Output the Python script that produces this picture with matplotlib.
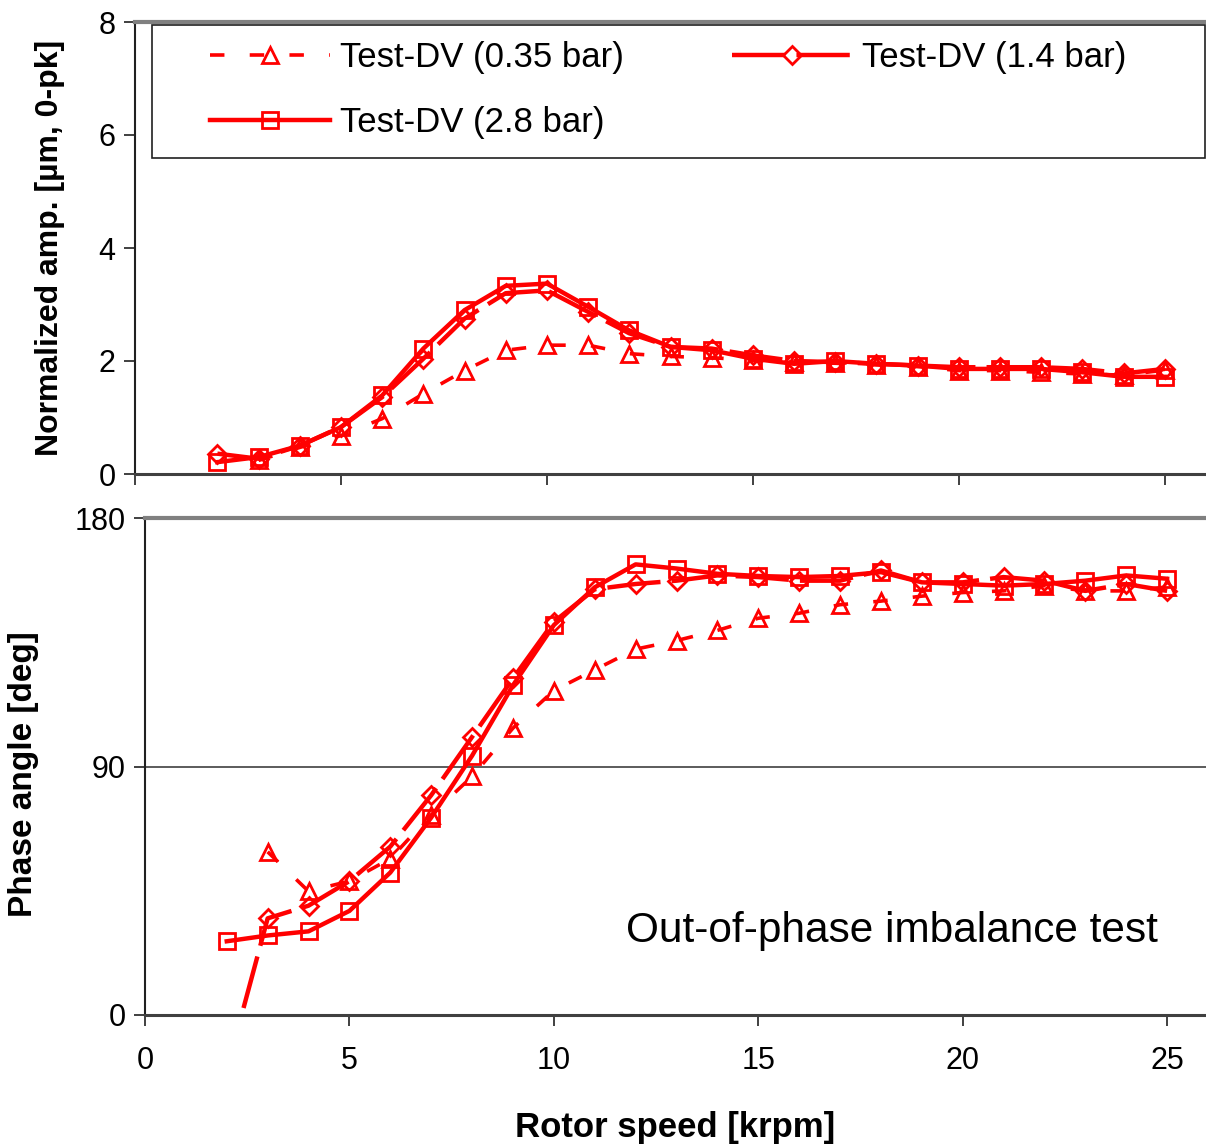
import matplotlib
matplotlib.use("Agg")
import matplotlib.pyplot as plt
from matplotlib.patches import Rectangle

# ---------------- data ----------------
speed_035 = list(range(3, 26))
speed_14 = list(range(2, 26))
speed_28 = list(range(2, 26))

amp_035 = [0.24, 0.47, 0.68, 0.98, 1.42, 1.83, 2.19, 2.28, 2.28, 2.13, 2.08, 2.06,
           2.01, 1.98, 1.96, 1.93, 1.90, 1.83, 1.83, 1.80, 1.77, 1.75, 1.84]
amp_14 = [0.36, 0.27, 0.50, 0.83, 1.36, 2.04, 2.75, 3.20, 3.25, 2.87, 2.49, 2.25,
          2.22, 2.10, 2.00, 1.98, 1.95, 1.92, 1.89, 1.89, 1.89, 1.86, 1.78, 1.86]
amp_28 = [0.21, 0.30, 0.50, 0.83, 1.39, 2.22, 2.90, 3.33, 3.37, 2.96, 2.54, 2.25,
          2.19, 2.04, 1.95, 2.00, 1.95, 1.92, 1.86, 1.86, 1.86, 1.80, 1.72, 1.72]

ph_035 = [59.1, 44.8, 48.5, 56.6, 72.5, 86.4, 103.9, 117.5, 125.0, 132.5, 135.6, 139.3,
          143.7, 145.5, 148.6, 149.9, 151.7, 153.0, 153.6, 155.5, 153.6, 153.6, 155.0]
ph_14 = [-20.0, 35.0, 39.6, 48.5, 61.0, 79.6, 100.7, 121.9, 142.4, 154.2, 156.1, 157.3,
         159.2, 158.6, 157.3, 157.3, 161.0, 156.7, 156.7, 158.6, 157.3, 153.6, 156.1, 153.6]
ph_28 = [26.7, 28.8, 30.3, 37.7, 51.6, 71.5, 93.9, 119.4, 141.2, 154.9, 163.2, 161.7,
         159.8, 159.0, 158.6, 159.0, 160.4, 156.7, 156.1, 155.5, 156.1, 157.3, 159.2, 158.0]

labels = ["Test-DV (0.35 bar)", "Test-DV (1.4 bar)", "Test-DV (2.8 bar)"]
amp_ticks = [0, 2, 4, 6, 8]
ph_ticks = [0, 90, 180]
x_ticks = [0, 5, 10, 15, 20, 25]

# ---------------- style ----------------
RED = "#ff0000"
regular = ["Liberation Sans", "DejaVu Sans"]

W, H = 1206, 1147
fig = plt.figure(figsize=(W / 100, H / 100), dpi=100)
ax1 = fig.add_axes([135 / W, 1 - 474 / H, 1071 / W, 452 / H])
ax2 = fig.add_axes([145 / W, 1 - 1015 / H, 1063 / W, 497 / H])

styles = [
    dict(ls=(0, (4, 7)), lw=2.6, marker="^"),
    dict(ls=(0, (12, 2.5)), lw=3.2, marker="D"),
    dict(ls="-", lw=3.2, marker="s"),
]
msizes = [12, 9, 11.5]

def draw(ax, xs_list, ys_list):
    handles = []
    for xs, ys, st, ms, lab in zip(xs_list, ys_list, styles, msizes, labels):
        h, = ax.plot(xs, ys, color=RED, linestyle=st["ls"], linewidth=st["lw"],
                     marker=st["marker"], markersize=ms, markerfacecolor="none",
                     markeredgecolor=RED, markeredgewidth=2.0, label=lab,
                     clip_on=True)
        handles.append(h)
    return handles

handles = draw(ax1, [speed_035, speed_14, speed_28], [amp_035, amp_14, amp_28])
draw(ax2, [speed_035, speed_14, speed_28], [ph_035, ph_14, ph_28])

for ax in (ax1, ax2):
    ax.set_xlim(0, 26)
    ax.set_xticks(x_ticks)
    ax.spines["right"].set_visible(False)
    ax.spines["top"].set_color("#808080")
    ax.spines["top"].set_linewidth(3)
    ax.spines["left"].set_color("#202020")
    ax.spines["left"].set_linewidth(1.5)
    ax.spines["bottom"].set_color("#404040")
    ax.spines["bottom"].set_linewidth(2.2)
    ax.tick_params(direction="out", length=8, width=1.2, color="#202020")
    ax.tick_params(axis="y", pad=6)
    ax.tick_params(axis="x", pad=14)

ax1.set_ylim(0, 8)
ax1.set_yticks(amp_ticks)
ax1.set_yticklabels([str(v) for v in amp_ticks], family=regular, fontsize=22)
ax1.tick_params(axis="x", labelbottom=False)
ax2.set_ylim(0, 180)
ax2.set_yticks(ph_ticks)
ax2.set_yticklabels([str(v) for v in ph_ticks], family=regular, fontsize=22)
ax2.set_xticklabels([str(v) for v in x_ticks], family=regular, fontsize=22)
ax2.axhline(90, color="#404040", lw=1.2, zorder=0)

fig.text(50 / W, 1 - 248 / H, "Normalized amp. [µm, 0-pk]", rotation=90,
         ha="center", va="center", family=regular, fontweight="bold", fontsize=23)
fig.text(24 / W, 1 - 774 / H, "Phase angle [deg]", rotation=90,
         ha="center", va="center", family=regular, fontweight="bold", fontsize=24)
fig.text(675 / W, 1 - 1127 / H, "Rotor speed [krpm]",
         ha="center", va="center", family=regular, fontweight="bold", fontsize=25)

ax2.text(24.77, 30.4, "Out-of-phase imbalance test", ha="right", va="center",
         family=regular, fontsize=30.5)

# legend frame
fig.patches.append(Rectangle((152 / W, 1 - 158 / H), (1205 - 152) / W, 133 / H,
                             transform=fig.transFigure, fill=False,
                             edgecolor="#202020", linewidth=1.2))

leg = fig.legend([handles[0], handles[2], handles[1]],
                 [labels[0], labels[2], labels[1]],
                 ncol=2, loc="upper left",
                 bbox_to_anchor=(210 / W, 1 - 41 / H),
                 prop=dict(family=regular, size=25), frameon=False,
                 handlelength=3.45, handletextpad=0.3, columnspacing=3.1,
                 labelspacing=0.92, borderpad=0, borderaxespad=0)

fig.savefig("out.png", dpi=100)
